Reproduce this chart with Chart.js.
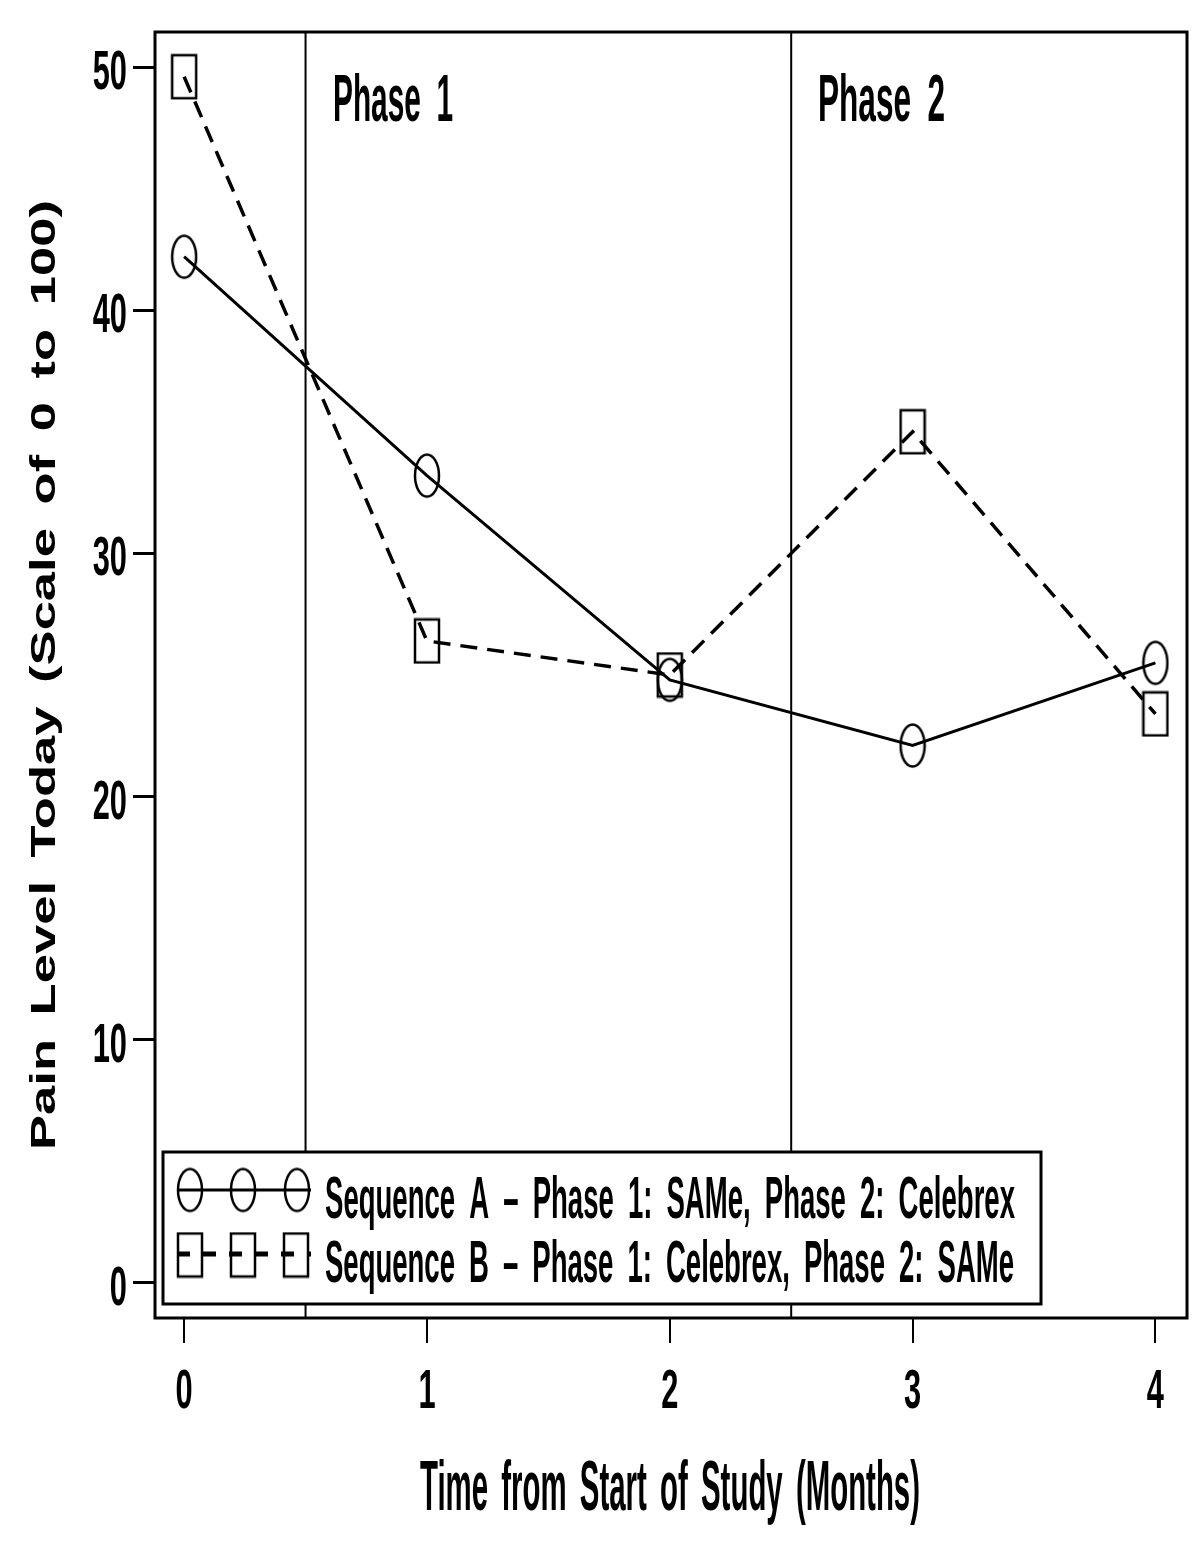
<!DOCTYPE html>
<html>
<head>
<meta charset="utf-8">
<script src="https://cdn.jsdelivr.net/npm/chart.js@4.4.0/dist/chart.umd.min.js"></script>
<style>
  html, body { margin: 0; padding: 0; background: #fff; }
  #wrap { width: 1198px; height: 1551px; }
</style>
</head>
<body>
<div id="wrap"><canvas id="c" width="1198" height="1551"></canvas></div>
<script>
// data
var months = [0, 1, 2, 3, 4];
var seqA = [42.2, 33.2, 24.8, 22.1, 25.5];
var seqB = [49.6, 26.4, 25.0, 35.0, 23.4];
var xTicks = [0, 1, 2, 3, 4];
var yTicks = [0, 10, 20, 30, 40, 50];
var phaseBreaks = [0.5, 2.5];
var phaseNames = ['Phase 1', 'Phase 2'];
var seriesNames = [
	'Sequence A \u2013 Phase 1: SAMe, Phase 2: Celebrex',
	'Sequence B \u2013 Phase 1: Celebrex, Phase 2: SAMe'
];
var xRange = [-0.12, 4.13];
var yRange = [-1.44, 51.44];

var FONT = '"Liberation Sans", Arial, sans-serif';

function makeMarker(kind) {
	var c = document.createElement('canvas');
	c.width = 28;
	c.height = 47;
	var g = c.getContext('2d');
	g.strokeStyle = '#000';
	g.lineWidth = 2.5;
	if (kind === 'circle') {
		g.beginPath();
		g.ellipse(14, 23.5, 12, 21, 0, 0, Math.PI * 2);
		g.stroke();
	} else {
		g.strokeRect(2, 2, 24, 43);
	}
	return c;
}
var circleMark = makeMarker('circle');
var squareMark = makeMarker('square');

// draw text squeezed to a given width
function fitText(ctx, txt, x, y, size, width, align, gap) {
	ctx.save();
	ctx.font = 'bold ' + size + 'px ' + FONT;
	ctx.wordSpacing = (gap || 0) + 'px';
	var w = ctx.measureText(txt).width;
	ctx.translate(x, y);
	ctx.scale(width / w, 1);
	ctx.textAlign = align;
	ctx.textBaseline = 'alphabetic';
	ctx.fillText(txt, 0, 0);
	ctx.restore();
}

// draw text with a fixed horizontal squeeze factor
function narrowText(ctx, txt, x, y, size, factor, align) {
	ctx.save();
	ctx.font = 'bold ' + size + 'px ' + FONT;
	ctx.translate(x, y);
	ctx.scale(factor, 1);
	ctx.textAlign = align;
	ctx.textBaseline = 'alphabetic';
	ctx.fillText(txt, 0, 0);
	ctx.restore();
}

var decorations = {
	id: 'decorations',
	afterDraw: function (chart) {
		var ctx = chart.ctx;
		var area = chart.chartArea;
		var xs = chart.scales.x;
		var ys = chart.scales.y;
		ctx.save();
		ctx.fillStyle = '#000';
		ctx.strokeStyle = '#000';

		// frame
		ctx.lineWidth = 3;
		ctx.strokeRect(area.left, area.top, area.right - area.left, area.bottom - area.top);

		// tick labels
		yTicks.forEach(function (v) {
			narrowText(ctx, String(v), 127, ys.getPixelForValue(v) + 22, 56, 0.55, 'right');
		});
		xTicks.forEach(function (v) {
			narrowText(ctx, String(v), xs.getPixelForValue(v), 1408, 56, 0.55, 'center');
		});

		// phase labels
		fitText(ctx, phaseNames[0], 333, 121, 66, 120, 'left', 16);
		fitText(ctx, phaseNames[1], 818, 121, 66, 127, 'left', 16);

		// axis titles
		fitText(ctx, 'Time from Start of Study (Months)', 670, 1510, 70, 500, 'center', 12);
		ctx.save();
		ctx.translate(55, 675);
		ctx.rotate(-Math.PI / 2);
		fitText(ctx, 'Pain Level Today (Scale of 0 to 100)', 0, 0, 35, 950, 'center', 6);
		ctx.restore();

		// legend
		ctx.fillStyle = '#fff';
		ctx.fillRect(163, 1152, 878, 152);
		ctx.lineWidth = 3;
		ctx.strokeRect(163, 1152, 878, 152);
		ctx.fillStyle = '#000';

		ctx.lineWidth = 3;
		ctx.beginPath();
		ctx.moveTo(177, 1190);
		ctx.lineTo(311, 1190);
		ctx.stroke();
		[190, 243, 297].forEach(function (cx) {
			ctx.drawImage(circleMark, cx - 14, 1190 - 23.5);
		});

		ctx.lineWidth = 5;
		ctx.setLineDash([13, 13]);
		ctx.beginPath();
		ctx.moveTo(177, 1254);
		ctx.lineTo(311, 1254);
		ctx.stroke();
		ctx.setLineDash([]);
		[190, 243, 296].forEach(function (cx) {
			ctx.drawImage(squareMark, cx - 14, 1255 - 23.5);
		});

		fitText(ctx, seriesNames[0], 325, 1218, 60, 690, 'left', 14);
		fitText(ctx, seriesNames[1], 325, 1282, 60, 689, 'left', 14);

		ctx.restore();
	}
};

function pts(ys) {
	return months.map(function (m, i) { return { x: m, y: ys[i] }; });
}

var datasets = phaseBreaks.map(function (b) {
	return {
		data: [{ x: b, y: yRange[0] }, { x: b, y: yRange[1] }],
		borderColor: '#000',
		borderWidth: 2,
		pointRadius: 0,
		showLine: true
	};
});
datasets.push({
	label: seriesNames[0],
	data: pts(seqA),
	borderColor: '#000',
	borderWidth: 3,
	showLine: true,
	pointStyle: circleMark,
	pointRadius: 14
});
datasets.push({
	label: seriesNames[1],
	data: pts(seqB),
	borderColor: '#000',
	borderWidth: 3.5,
	borderDash: [17, 10],
	showLine: true,
	pointStyle: squareMark,
	pointRadius: 14
});

new Chart(document.getElementById('c'), {
	type: 'scatter',
	data: { datasets: datasets },
	options: {
		responsive: false,
		animation: false,
		events: [],
		layout: {
			autoPadding: false,
			padding: { left: 133, top: 32, right: 11, bottom: 208 }
		},
		plugins: {
			legend: { display: false },
			tooltip: { enabled: false }
		},
		scales: {
			x: {
				type: 'linear',
				min: xRange[0],
				max: xRange[1],
				afterBuildTicks: function (s) {
					s.ticks = xTicks.map(function (v) { return { value: v }; });
				},
				ticks: { display: false },
				border: { display: false },
				grid: { drawOnChartArea: false, drawTicks: true, tickLength: 25, lineWidth: 2, color: '#000' }
			},
			y: {
				type: 'linear',
				min: yRange[0],
				max: yRange[1],
				afterBuildTicks: function (s) {
					s.ticks = yTicks.map(function (v) { return { value: v }; });
				},
				ticks: { display: false },
				border: { display: false },
				grid: { drawOnChartArea: false, drawTicks: true, tickLength: 22, lineWidth: 3, color: '#000' }
			}
		}
	},
	plugins: [decorations]
});
</script>
</body>
</html>
